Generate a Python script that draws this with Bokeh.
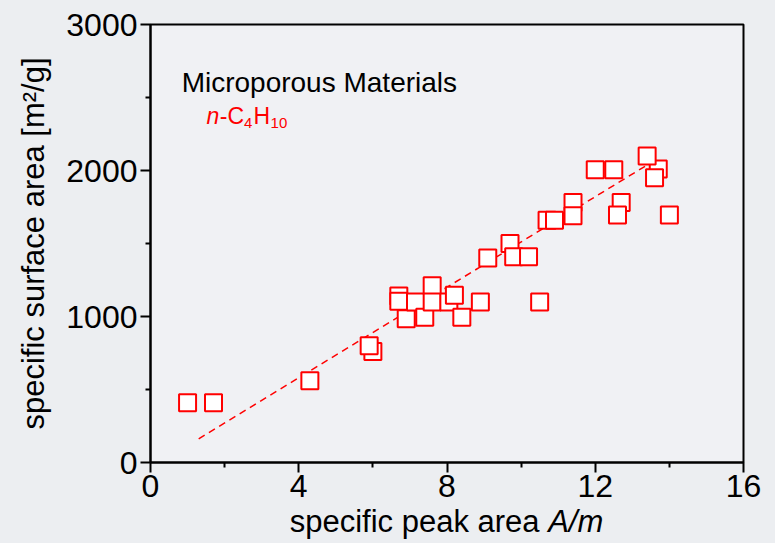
from bokeh.plotting import figure
from bokeh.models import Label, FixedTicker, Range1d, ColumnDataSource, Div
from bokeh.layouts import column
from bokeh.embed import file_html
from bokeh.resources import INLINE

# ---- data ----
x_vals = [1.0, 1.7, 4.3, 6.0, 5.9, 6.7, 6.7, 6.9, 7.15, 7.4, 7.6, 7.6, 8.05, 8.2,
          8.4, 8.9, 10.5, 9.1, 9.7, 9.8, 10.2, 10.7, 10.9, 11.4, 11.4, 12.0, 12.5,
          12.7, 12.6, 13.7, 13.4, 13.6, 14.0]
y_vals = [410, 410, 560, 760, 800, 1140, 1105, 985, 1100, 995, 1210, 1100, 1100, 1145,
          995, 1100, 1100, 1400, 1500, 1410, 1410, 1660, 1660, 1780, 1690, 2005, 2005,
          1780, 1695, 2010, 2100, 1950, 1695]
fit_x = [1.3, 13.35]
fit_y = [162, 2030]
x_ticks = [0, 4, 8, 12, 16]
x_minor = [2, 6, 10, 14]
y_ticks = [0, 1000, 2000, 3000]
y_minor = [500, 1500, 2500]

FONT = "Liberation Sans"
BG = "#eceef1"

p = figure(width=775, height=511, output_backend="svg", toolbar_location=None,
           x_range=Range1d(0, 16), y_range=Range1d(0, 3000),
           min_border_left=150, min_border_right=32, min_border_top=24,
           min_border_bottom=49)
p.background_fill_color = "#f0f1f4"
p.border_fill_color = BG
p.outline_line_color = "black"
p.outline_line_width = 2
p.xgrid.visible = False
p.ygrid.visible = False

p.xaxis.ticker = FixedTicker(ticks=x_ticks, minor_ticks=x_minor)
p.yaxis.ticker = FixedTicker(ticks=y_ticks, minor_ticks=y_minor)
for ax in (p.xaxis, p.yaxis):
    ax.axis_line_width = 2
    ax.axis_line_color = "black"
    ax.major_tick_line_width = 2
    ax.minor_tick_line_width = 2
    ax.major_tick_line_color = "black"
    ax.minor_tick_line_color = "black"
    ax.major_tick_out = 10
    ax.major_tick_in = 0
    ax.minor_tick_out = 5
    ax.minor_tick_in = 0
    ax.major_label_text_font = FONT
    ax.major_label_text_font_size = "32px"
    ax.major_label_text_color = "black"
p.xaxis.major_label_standoff = 2
p.yaxis.major_label_standoff = 3

p.yaxis.axis_label = "specific surface area [m²/g]"
p.yaxis.axis_label_text_font = FONT
p.yaxis.axis_label_text_font_size = "31px"
p.yaxis.axis_label_text_font_style = "normal"
p.yaxis.axis_label_text_color = "black"
p.yaxis.axis_label_standoff = 12

# fit line
p.line(fit_x, fit_y, line_color="red", line_width=1.5, line_dash="7 5")

# data squares
src = ColumnDataSource(dict(x=x_vals, y=y_vals))
p.scatter("x", "y", source=src, marker="square", size=17, line_color="red",
          line_width=2, fill_color="white")

# annotation texts
p.add_layout(Label(x=0.84, y=2603, text="Microporous Materials", text_font=FONT,
                   text_font_size="28px", text_color="black",
                   text_baseline="alphabetic", text_align="left"))
base_y = 2370
sub_y = 2325
parts = [
    ("n", 1.51, base_y, "23px", "italic"),
    ("-C", 1.87, base_y, "23px", "normal"),
    ("4", 2.52, sub_y, "15px", "normal"),
    ("H", 2.78, base_y, "23px", "normal"),
    ("10", 3.24, sub_y, "15px", "normal"),
]
for txt, xx, yy, fs, st in parts:
    p.add_layout(Label(x=xx, y=yy, text=txt, text_font=FONT, text_font_size=fs,
                       text_color="red", text_font_style=st,
                       text_baseline="alphabetic", text_align="left"))

# x-axis title with italic A/m (HTML below the figure)
xlabel = Div(text="specific peak area <i>A/m</i>", width=593, height=32,
             margin=(0, 32, 0, 150),
             styles={"text-align": "center", "font-family": FONT,
                     "font-size": "31px", "line-height": "21px",
                     "color": "black", "white-space": "nowrap"})

layout = column(p, xlabel, spacing=0, styles={"background-color": BG})
open("out.html", "w").write(file_html(layout, INLINE))
